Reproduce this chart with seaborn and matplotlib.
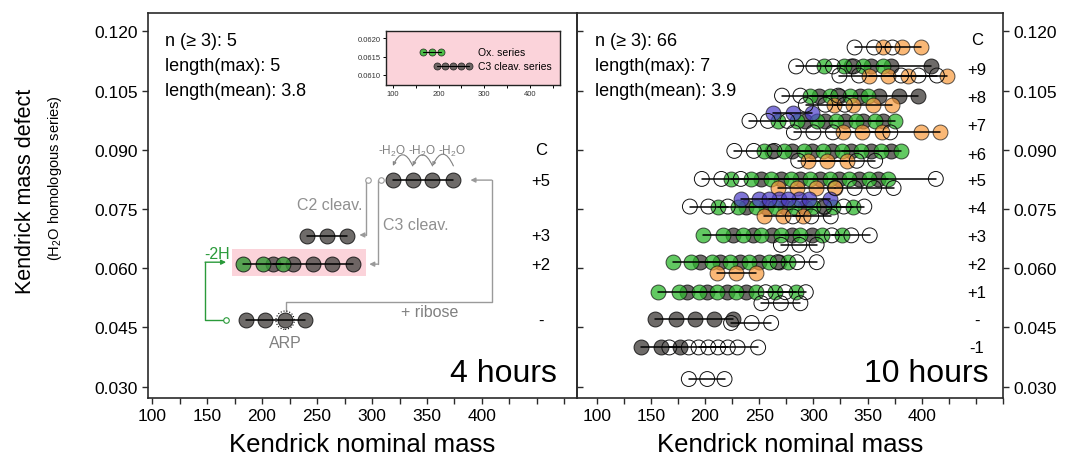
import numpy as np
import pandas as pd
import matplotlib
matplotlib.use("Agg")
import matplotlib.pyplot as plt
import seaborn as sns
from matplotlib.patches import Rectangle

# ---------------- data ----------------
# left panel: 4 hours
l_grey_kmd = [0.0468, 0.0610, 0.0682, 0.0823]
l_grey_mass = [[185, 203, 221, 239], [210, 228, 246, 264, 283], [241, 259, 277], [319, 337, 355, 374]]
l_green_kmd = [0.0610]
l_green_mass = [[183, 201, 219]]
l_row_labels = ["C", "+5", "+3", "+2", "-"]
l_row_kmd = [0.0900, 0.0823, 0.0682, 0.0610, 0.0468]
l_stats = ["n (≥ 3): 5", "length(max): 5", "length(mean): 3.8"]

# inset
ins_green_mass = [166, 185, 205]
ins_green_kmd = 0.06163
ins_grey_mass = [196, 214, 231, 249, 266]
ins_grey_kmd = 0.06125
ins_labels = ["Ox. series", "C3 cleav. series"]

# right panel: 10 hours
r_open_kmd = [0.1159, 0.1111, 0.1088, 0.1037, 0.1014, 0.0973, 0.0944, 0.0897, 0.0872, 0.0826,
              0.0803, 0.0756, 0.0756, 0.0731, 0.0683, 0.0659, 0.0615, 0.0539, 0.0511, 0.0461,
              0.0399, 0.0399, 0.0319]
r_open_mass = [[338, 356, 373], [284, 300, 318, 337], [324, 342, 381, 397, 414], [271, 288, 323],
               [293, 311, 329], [241, 258, 276], [282, 300, 318, 371], [227, 245, 264], [286, 340, 357],
               [197, 215, 233, 413], [320, 338, 356, 374], [186, 203, 221], [310, 328, 347],
               [281, 298, 316], [317, 335, 352], [270, 287, 303], [267, 285, 303], [256, 274, 293],
               [252, 270, 288], [224, 243, 261], [167, 185, 203, 221], [194, 212, 230, 249],
               [185, 202, 218]]
r_grey_kmd = [0.1111, 0.1037, 0.0973, 0.0897, 0.0826, 0.0756, 0.0683, 0.0615, 0.0539, 0.0471, 0.0399]
r_grey_mass = [[335, 353, 372, 409], [305, 324, 343, 361, 379, 397], [292, 311, 329, 346, 364],
               [262, 280, 299, 317, 335, 353, 372], [252, 270, 288, 306, 324, 342, 360],
               [238, 256, 274, 292, 310], [226, 244, 262, 280, 299], [195, 214, 232, 250, 268],
               [183, 202, 220, 238], [154, 173, 191, 208, 226], [141, 159, 177]]
r_green_kmd = [0.1111, 0.1037, 0.0973, 0.0897, 0.0897, 0.0826, 0.0826, 0.0756, 0.0756, 0.0683,
               0.0683, 0.0615, 0.0539, 0.0539]
r_green_mass = [[310, 328, 346, 364], [297, 315, 334, 350], [267, 285, 303, 321, 339, 357, 375],
                [254, 273, 291, 309], [326, 344, 362, 381], [224, 242, 261, 279],
                [297, 315, 333, 351, 369], [212, 230, 247, 265], [282, 300, 318, 337],
                [198, 217, 235, 252], [270, 288, 308, 326], [170, 187, 206, 223, 241, 259, 277],
                [157, 176, 194, 211], [229, 247, 265, 284]]
r_orange_kmd = [0.1159, 0.1088, 0.1014, 0.0944, 0.0872, 0.0803, 0.0731, 0.0588]
r_orange_mass = [[364, 382, 399], [351, 369, 387, 423], [319, 337, 355, 373], [327, 345, 363, 399, 417],
                 [295, 313, 331], [267, 285, 302, 320], [254, 272, 290], [211, 229, 247]]
r_purple_kmd = [0.0994, 0.0776, 0.0776]
r_purple_mass = [[263, 281, 299], [233, 250, 268, 287], [259, 277, 296, 315]]
r_row_labels = ["C", "+9", "+8", "+7", "+6", "+5", "+4", "+3", "+2", "+1", "-", "-1"]
r_row_kmd = [0.1180, 0.1104, 0.1033, 0.0961, 0.0889, 0.0822, 0.0750, 0.0681, 0.0608, 0.0539, 0.0468, 0.0399]
r_stats = ["n (≥ 3): 66", "length(max): 7", "length(mean): 3.9"]

y_ticks = [0.030, 0.045, 0.060, 0.075, 0.090, 0.105, 0.120]

# ---------------- style ----------------
sns.set_style("ticks")
plt.rcParams["font.family"] = ["Liberation Sans", "DejaVu Sans"]
plt.rcParams["mathtext.fontset"] = "custom"
plt.rcParams["mathtext.rm"] = "Liberation Sans"
plt.rcParams["mathtext.it"] = "Liberation Sans:italic"
plt.rcParams["text.color"] = "black"
plt.rcParams["axes.labelcolor"] = "black"
plt.rcParams["xtick.color"] = "black"
plt.rcParams["ytick.color"] = "black"

GREY = "#5a5654"
GREEN = "#2eb82e"
LGREEN = "#3a9a3a"
ORANGE = "#f89a3c"
PURPLE = "#4b3cc8"
PINK = "#fbd3da"
ANN = "#9a9a9a"
SPINE = "#2a2a2a"
S = 115


def frame(kmds, masses, tag):
    rows = []
    for i, (k, ms) in enumerate(zip(kmds, masses)):
        for m in ms:
            rows.append({"mass": m, "kmd": k, "sid": f"{tag}{i}"})
    return pd.DataFrame(rows)


def draw_series(ax, df, color, alpha, s=S, open_=False, lw=0.7):
    if open_:
        sns.scatterplot(data=df, x="mass", y="kmd", s=s, facecolors="none", edgecolor="#111111",
                        linewidth=lw, ax=ax, zorder=3, legend=False)
    else:
        sns.scatterplot(data=df, x="mass", y="kmd", s=s, color=color, alpha=alpha,
                        edgecolor="#111111", linewidth=lw, ax=ax, zorder=2, legend=False)


def draw_lines(ax, df, lw=1.1):
    sns.lineplot(data=df, x="mass", y="kmd", units="sid", estimator=None, color="black",
                 lw=lw, ax=ax, zorder=4, legend=False, sort=True)


fig = plt.figure(figsize=(10.71, 4.56), dpi=100)
ax1 = fig.add_axes([148 / 1071, 1 - 399 / 456, (577 - 148) / 1071, 385 / 456])
ax2 = fig.add_axes([577 / 1071, 1 - 399 / 456, (1003 - 577) / 1071, 385 / 456])

# ---------------- left panel ----------------
ax1.add_patch(Rectangle((172.7, 0.0580), 294.5 - 172.7, 0.0069, fc=PINK, ec="none", zorder=0.5))
lg = frame(l_grey_kmd, l_grey_mass, "g")
lgr = frame(l_green_kmd, l_green_mass, "e")
draw_series(ax1, lg, GREY, 0.88)
draw_series(ax1, lgr, LGREEN, 0.85)
draw_lines(ax1, pd.concat([lg, lgr]))
# ARP dotted ring
ax1.scatter([221], [0.0468], s=175, facecolors="none", edgecolors="black", linestyles=":", lw=0.8, zorder=5)

# annotation paths
small = dict(marker="o", ms=4, mfc="white", mew=0.8)
arr = dict(arrowstyle="-|>", color=ANN, lw=1, mutation_scale=7, shrinkA=0, shrinkB=0)
ax1.plot([296.4, 294.5, 294.5], [0.0823, 0.0823, 0.0684], color=ANN, lw=1, zorder=1)
ax1.annotate("", xy=(288.5, 0.0684), xytext=(294.5, 0.0684), arrowprops=arr)
ax1.plot([296.4], [0.0823], color=ANN, mec=ANN, **small)
ax1.plot([308.2, 305.2, 305.2], [0.0823, 0.0823, 0.0610], color=ANN, lw=1, zorder=1)
ax1.annotate("", xy=(297.5, 0.0610), xytext=(305.2, 0.0610), arrowprops=arr)
ax1.plot([308.2], [0.0823], color=ANN, mec=ANN, **small)
ax1.plot([221.8, 221.8, 408.8, 408.8], [0.0492, 0.0515, 0.0515, 0.0823], color=ANN, lw=1, zorder=1)
ax1.annotate("", xy=(389.5, 0.0823), xytext=(408.8, 0.0823), arrowprops=arr)
garr = dict(arr, color="#2a9a3a")
ax1.plot([167.3, 148.2, 148.2], [0.0468, 0.0468, 0.0615], color="#2a9a3a", lw=1, zorder=1)
ax1.annotate("", xy=(167.3, 0.0615), xytext=(148.2, 0.0615), arrowprops=garr)
ax1.plot([167.3], [0.0468], color="#2a9a3a", mec="#2a9a3a", **small)

ax1.text(158.8, 0.0636, "-2H", color="#2a9a3a", fontsize=11.5, ha="center", va="center")
ax1.text(221.5, 0.0412, "ARP", color="#808080", fontsize=11.5, ha="center", va="center")
ax1.text(352.7, 0.0490, "+ ribose", color="#808080", fontsize=11.5, ha="center", va="center")
ax1.text(291.8, 0.0760, "C2 cleav.", color="#909090", fontsize=11.5, ha="right", va="center")
ax1.text(310.0, 0.0710, "C3 cleav.", color="#909090", fontsize=11.5, ha="left", va="center")
for x0, x1, xt in [(337, 319, 318), (355, 337, 345.5), (374, 355, 373)]:
    ax1.annotate("", xy=(x1, 0.0859), xytext=(x0, 0.0859),
                 arrowprops=dict(arrowstyle="-|>", connectionstyle="arc3,rad=1.1", edgecolor="#808080",
                                 facecolor="white", lw=0.8, mutation_scale=5, shrinkA=0, shrinkB=0))
    ax1.text(xt, 0.0898, "-H$_2$O", color="#808080", fontsize=8.5, ha="center", va="center")

for lab, k in zip(l_row_labels, l_row_kmd):
    ax1.text(453.6, k, lab, fontsize=12, ha="center", va="center")
for i, t in enumerate(l_stats):
    ax1.text(0.040, 0.917 - i * 0.0647, t, transform=ax1.transAxes, fontsize=13, va="baseline")
ax1.text(0.953, 0.044, "4 hours", transform=ax1.transAxes, fontsize=23, ha="right", va="baseline")

# ---------------- right panel ----------------
ro = frame(r_open_kmd, r_open_mass, "o")
rg = frame(r_grey_kmd, r_grey_mass, "g")
re_ = frame(r_green_kmd, r_green_mass, "e")
ror = frame(r_orange_kmd, r_orange_mass, "r")
rp = frame(r_purple_kmd, r_purple_mass, "p")
draw_series(ax2, rg, GREY, 0.88)
draw_series(ax2, re_, GREEN, 0.75)
draw_series(ax2, ror, ORANGE, 0.7)
draw_series(ax2, rp, PURPLE, 0.7)
draw_series(ax2, ro, None, 1, open_=True)
draw_lines(ax2, pd.concat([ro, rg, re_, ror, rp]))
for lab, k in zip(r_row_labels, r_row_kmd):
    ax2.text(451.0, k, lab, fontsize=12, ha="center", va="center")
for i, t in enumerate(r_stats):
    ax2.text(0.042, 0.917 - i * 0.0647, t, transform=ax2.transAxes, fontsize=13, va="baseline")
ax2.text(0.965, 0.044, "10 hours", transform=ax2.transAxes, fontsize=23, ha="right", va="baseline")

# ---------------- axes styling ----------------
xt = np.arange(100, 476, 25)
xl = [str(v) if (v % 50 == 0 and v <= 400) else "" for v in xt]
for ax, xlim in [(ax1, (96.3, 486.4)), (ax2, (81.8, 469.5))]:
    ax.set_xlim(*xlim)
    ax.set_ylim(0.02709, 0.12464)
    ax.set_xticks(xt)
    ax.set_xticklabels(xl)
    ax.set_yticks(y_ticks)
    ax.set_yticklabels([f"{v:.3f}" for v in y_ticks])
    ax.tick_params(direction="out", length=4, width=1, color=SPINE, labelcolor="black", labelsize=12.5)
    ax.tick_params(axis="x", labelsize=12.5, pad=3)
    for sp in ax.spines.values():
        sp.set_visible(True)
        sp.set_color(SPINE)
        sp.set_linewidth(1.2)
    ax.set_xlabel("Kendrick nominal mass", fontsize=18.5, labelpad=7, color="black")
    ax.set_ylabel("")

ax1.tick_params(axis="y", left=True, right=True, labelleft=True, labelright=False)
ax2.yaxis.tick_right()
ax2.tick_params(axis="y", left=False, right=True, labelleft=False, labelright=True)
ax2.patch.set_visible(False)

fig.text(26 / 1071, 1 - 191 / 456, "Kendrick mass defect", rotation=90, fontsize=15.5, ha="center", va="center")
fig.text(55 / 1071, 1 - 178 / 456, "(H$_2$O homologous series)", rotation=90, fontsize=10.5,
         ha="center", va="center")

# ---------------- inset ----------------
axi = fig.add_axes([386 / 1071, 1 - 86 / 456, 174 / 1071, 54 / 456])
axi.set_facecolor(PINK)
ig = pd.DataFrame({"mass": ins_green_mass, "kmd": ins_green_kmd, "sid": "a"})
ir = pd.DataFrame({"mass": ins_grey_mass, "kmd": ins_grey_kmd, "sid": "b"})
draw_series(axi, ir, GREY, 0.88, s=26, lw=0.5)
draw_series(axi, ig, GREEN, 0.85, s=26, lw=0.5)
draw_lines(axi, pd.concat([ig, ir]), lw=0.8)
axi.set_xlim(85, 466)
axi.set_ylim(0.06072, 0.0622)
axi.set_xticks([100, 200, 300, 400])
axi.set_xticks(np.arange(100, 466, 50), minor=True)
axi.set_yticks([0.0610, 0.0615, 0.0620])
axi.set_yticklabels(["0.0610", "0.0615", "0.0620"])
axi.tick_params(which="both", direction="out", length=2, width=0.7, labelsize=5.5, pad=1.5,
                labelcolor="#333333")
axi.set_xlabel("")
axi.set_ylabel("")
for sp in axi.spines.values():
    sp.set_visible(True)
    sp.set_color("#222222")
    sp.set_linewidth(1.0)
axi.text(0.529, 0.617, ins_labels[0], transform=axi.transAxes, fontsize=7.5, va="center")
axi.text(0.529, 0.357, ins_labels[1], transform=axi.transAxes, fontsize=7.5, va="center")

fig.savefig("out.png", dpi=100)
